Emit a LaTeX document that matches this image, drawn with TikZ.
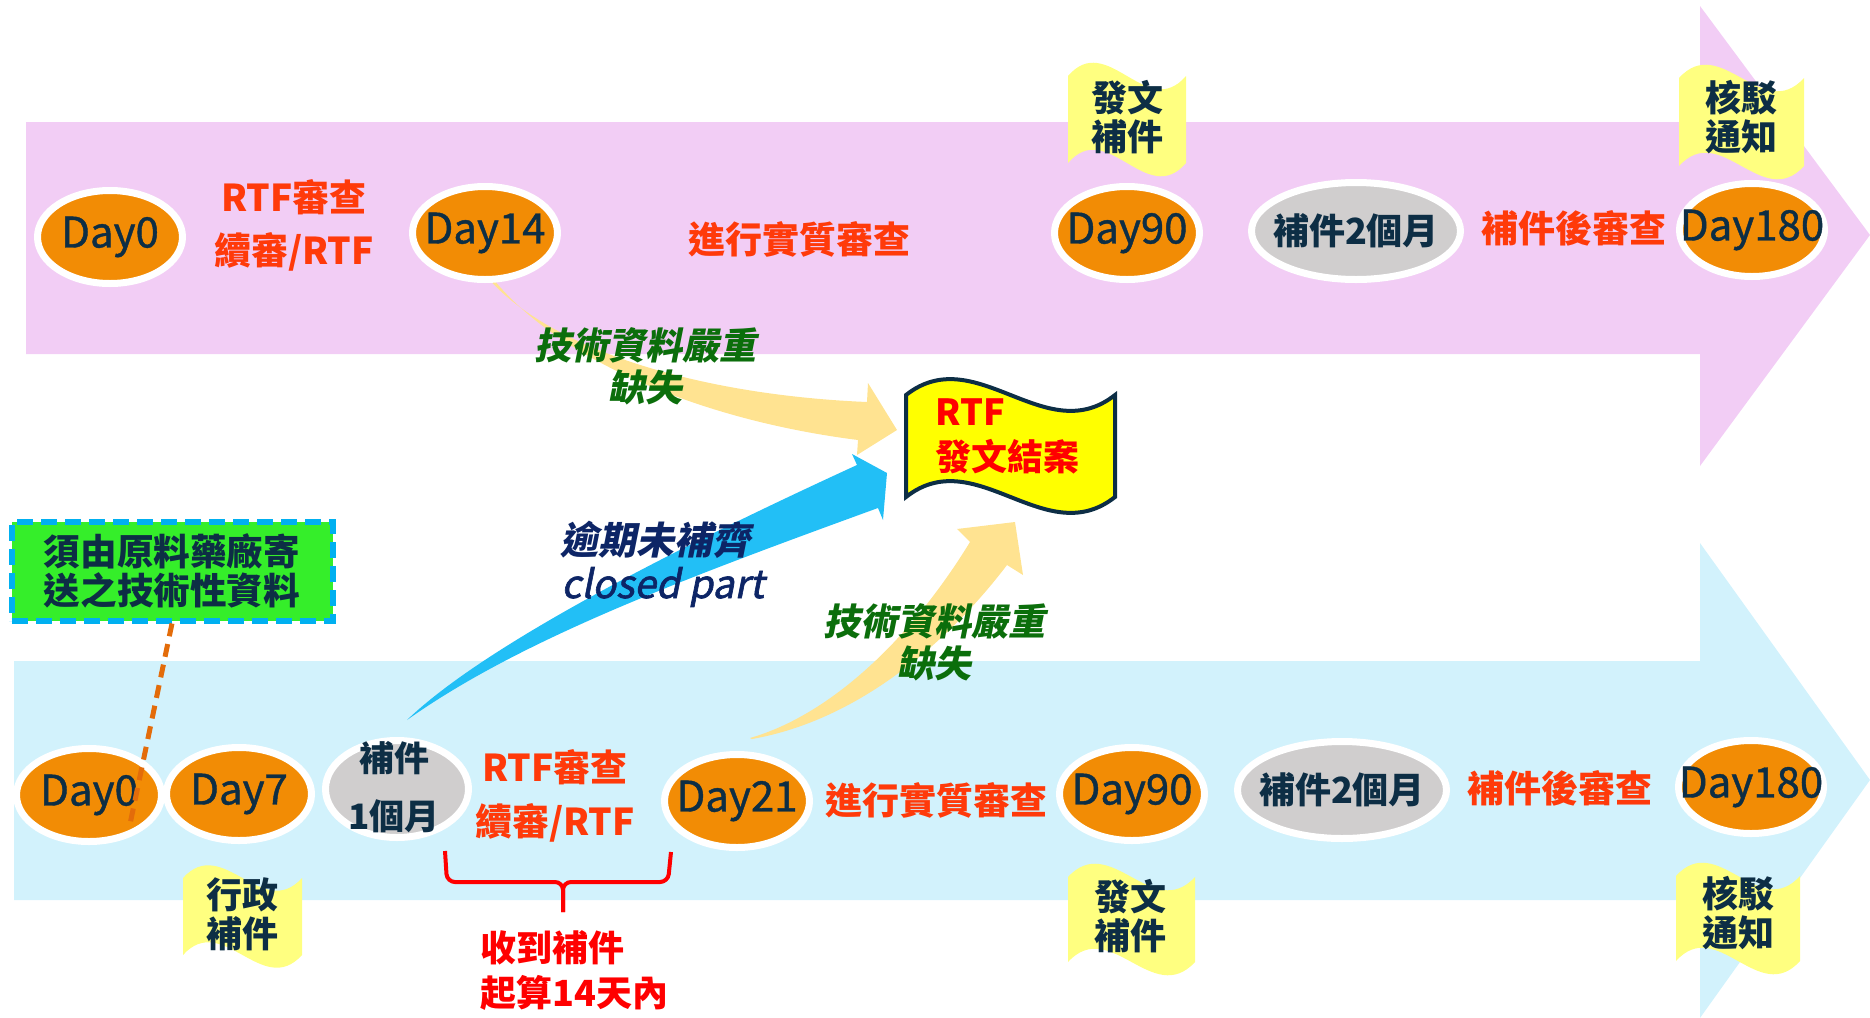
\documentclass[tikz,border=0pt]{standalone}
\usepackage{fontspec}
\setmainfont{Noto Sans CJK TC}
\newfontfamily\slfont{Noto Sans CJK TC}[FakeSlant=0.2]
\newfontfamily\slmedfont{Noto Sans CJK TC}[FakeSlant=0.2, FakeBold=1.6]
\newfontfamily\medfont{Noto Sans CJK TC}[FakeBold=1]
\usetikzlibrary{shapes.geometric}
\definecolor{pinkband}{HTML}{F2CDF5}
\definecolor{blueband}{HTML}{D2F2FC}
\definecolor{arrowyellow}{HTML}{FFE391}
\definecolor{arrowblue}{HTML}{22BFF6}
\definecolor{dayorange}{HTML}{F28C05}
\definecolor{graybub}{HTML}{D0CECE}
\definecolor{navy}{HTML}{0D2E45}
\definecolor{redorange}{HTML}{FF3A0A}
\definecolor{flagyellow}{HTML}{FFFF80}
\definecolor{rtfyellow}{HTML}{FFFF00}
\definecolor{darkgreen}{HTML}{0B6E0B}
\definecolor{darkblue}{HTML}{0D2566}
\definecolor{boxgreen}{HTML}{35EE2A}
\definecolor{boxblue}{HTML}{00B0F0}
\definecolor{dashorange}{HTML}{E36C0A}
\definecolor{purered}{HTML}{FF0000}
\newcommand\waveflag[6][]{%
  \path[#1] (#2,#4) .. controls ({#2+(#3-#2)/3},{#4-#6}) and ({#2+2*(#3-#2)/3},{#4+#6}) .. (#3,#4)
    -- (#3,#5) .. controls ({#2+2*(#3-#2)/3},{#5+#6}) and ({#2+(#3-#2)/3},{#5-#6}) .. (#2,#5) -- cycle;}
\newcommand\zw[1]{\makebox[0pt][c]{#1}}
\tikzset{
  dayell/.style={ellipse, fill=dayorange, draw=white, line width=3.5pt,
    minimum width=72.5pt, minimum height=46.5pt, inner sep=0pt, text=navy,
    font=\medfont\fontsize{21}{24}\selectfont},
  grayell/.style={dayell, fill=graybub, font=\bfseries\fontsize{18}{20}\selectfont},
  redtxt/.style={text=redorange, font=\bfseries\fontsize{18.5}{22}\selectfont, inner sep=0pt},
  navytxt/.style={text=navy, font=\bfseries\fontsize{18}{19.5}\selectfont, align=center, inner sep=0pt},
  greentxt/.style={text=darkgreen, font=\slfont\bfseries\fontsize{18.5}{21}\selectfont, align=center, inner sep=0pt},
  bluetxt/.style={text=darkblue, font=\slfont\bfseries\fontsize{19}{22}\selectfont, inner sep=0pt, anchor=west},
  puretxt/.style={text=purered, font=\bfseries\fontsize{18}{22}\selectfont, inner sep=0pt, anchor=west},
}
\begin{document}
\begin{tikzpicture}[x=0.5pt,y=-0.5pt]
\useasboundingbox (0,0) rectangle (1870,1018);
% bands
\fill[pinkband] (26,122) -- (1700,122) -- (1700,6) -- (1870,235) -- (1700,466) -- (1700,354) -- (26,354) -- cycle;
\fill[blueband] (14,661) -- (1700,661) -- (1700,543) -- (1870,780) -- (1700,1018) -- (1700,900) -- (14,900) -- cycle;
% block arrows
\fill[arrowyellow] (487,277) .. controls (550,350) and (700,395) .. (867,402) -- (868,383) -- (897,430) -- (857,455) -- (858,440) .. controls (700,420) and (560,360) .. (494,280) -- cycle;
\fill[arrowblue] (407,720) .. controls (480,650) and (650,560) .. (857,465) -- (852,454) -- (887,473) -- (883,520) -- (878,508) .. controls (680,580) and (520,640) .. (407,720) -- cycle;
\fill[arrowyellow] (750,738) .. controls (830,715) and (910,640) .. (970,542) -- (957,529) -- (1015,522) -- (1023,575) -- (1007,565) .. controls (950,640) and (860,720) .. (752,739) -- cycle;
% top row
\node[dayell] (t0) at (110,237) {\zw{Day0}};
\node[redtxt] (t0a) at (294,197) {RTF審查};
\node[redtxt] (t0b) at (294,252) {續審/RTF};
\node[dayell] (t14) at (485,233) {\zw{Day14}};
\node[redtxt] (tsub) at (799,239) {進行實質審查};
\node[dayell] (t90) at (1127,233) {\zw{Day90}};
\node[grayell, minimum width=104.5pt, minimum height=48.5pt] (t2m) at (1356,231) {\zw{補件2個月}};
\node[redtxt] (tpost) at (1574,228) {補件後審查};
\node[dayell] (t180) at (1752,230) {\zw{Day180}};
\waveflag[fill=flagyellow]{1068}{1186}{76}{163}{46}
\node[navytxt] (tf1) at (1127,117.5) {發文\\補件};
\waveflag[fill=flagyellow]{1679}{1804}{78}{166}{46}
\node[navytxt] (tf2) at (1741,117.5) {核駁\\通知};
% bottom row
\node[dayell] (b0) at (89,795) {\zw{Day0}};
\node[dayell] (b7) at (239,794) {\zw{Day7}};
\node[grayell, minimum width=71.5pt, minimum height=48.5pt] (b1m) at (397,789) {};
\node[navytxt, font=\bfseries\fontsize{17.5}{19}\selectfont] (b1ma) at (394,758) {補件};
\node[navytxt, font=\bfseries\fontsize{17.5}{19}\selectfont] (b1mb) at (394,816) {1個月};
\node[redtxt] (b7a) at (555,767) {RTF審查};
\node[redtxt] (b7b) at (555,823) {續審/RTF};
\node[dayell] (b21) at (737,801) {\zw{Day21}};
\node[redtxt] (bsub) at (936,800) {進行實質審查};
\node[dayell] (b90) at (1132,794) {\zw{Day90}};
\node[grayell, minimum width=104.5pt, minimum height=48.5pt] (b2m) at (1342,790) {\zw{補件2個月}};
\node[redtxt] (bpost) at (1560,788) {補件後審查};
\node[dayell] (b180) at (1751,787) {\zw{Day180}};
\waveflag[fill=flagyellow]{183}{302}{878}{955}{44}
\node[navytxt] (bf0) at (242,914) {行政\\補件};
\waveflag[fill=flagyellow]{1068}{1195}{877}{962}{46}
\node[navytxt] (bf1) at (1130,916) {發文\\補件};
\waveflag[fill=flagyellow]{1676}{1800}{876}{961}{46}
\node[navytxt] (bf2) at (1738,913) {核駁\\通知};
% brace
\draw[purered, line width=2pt, rounded corners=4pt] (445,851) -- (447,882) -- (563,882) -- (563,912);
\draw[purered, line width=2pt, rounded corners=4pt] (671,852) -- (668,882) -- (563,882) -- (563,912);
\node[puretxt] (br1) at (480,948) {收到補件};
\node[puretxt] (br2) at (480,993) {起算14天內};
% green box and dashed line
\node[draw=boxblue, line width=3pt, dash pattern=on 8pt off 4pt, fill=boxgreen,
  minimum width=160.5pt, minimum height=49.5pt, inner sep=0pt, align=center,
  text=navy, font=\bfseries\fontsize{18.3}{19.5}\selectfont] (gbox) at (172,571) {須由原料藥廠寄\\送之技術性資料};
\coordinate (dashend) at (129,829);
\draw[dashorange, line width=2.5pt, dash pattern=on 6.5pt off 4pt] (gbox.south) -- (dashend);
% labels on arrows
\node[greentxt] (g1) at (645,366) {技術資料嚴重\\缺失};
\node[greentxt] (g2) at (934,642) {技術資料嚴重\\缺失};
\node[bluetxt] (o1) at (560,540) {逾期未補齊};
\node[bluetxt, font=\slmedfont\fontsize{19.5}{22}\selectfont] (o2) at (561,587) {closed part};
% RTF flag
\waveflag[fill=rtfyellow, draw=navy, line width=2pt]{906}{1115}{395}{497}{55}
\node[puretxt] (rtf1) at (935,412) {RTF};
\node[puretxt] (rtf2) at (935,457) {發文結案};
\end{tikzpicture}
\end{document}
